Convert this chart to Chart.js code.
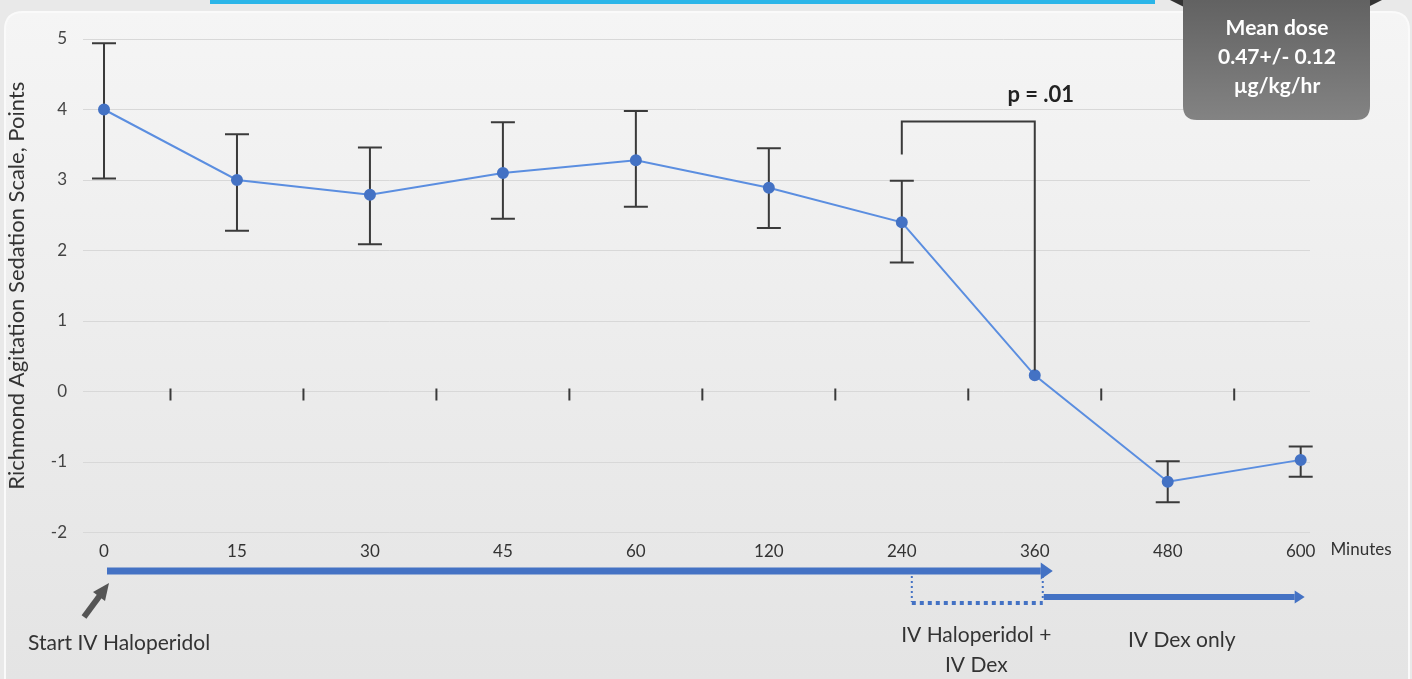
<!DOCTYPE html>
<html>
<head>
<meta charset="utf-8">
<script src="https://cdn.jsdelivr.net/npm/chart.js@4/dist/chart.umd.min.js"></script>
<style>
  html, body { margin: 0; padding: 0; background: #e9e9e9; }
  canvas { display: block; }
</style>
</head>
<body>
<canvas id="rass" width="1412" height="679"></canvas>
<script>
// minutes after start of IV haloperidol
const categories = ['0', '15', '30', '45', '60', '120', '240', '360', '480', '600'];
// mean RASS score and error bar ends
const meanRass = [4.0, 3.0, 2.79, 3.1, 3.28, 2.89, 2.4, 0.23, -1.28, -0.97];
const upperBar = [4.94, 3.65, 3.46, 3.82, 3.98, 3.45, 2.99, null, -0.99, -0.78];
const lowerBar = [3.02, 2.28, 2.09, 2.45, 2.62, 2.32, 1.83, null, -1.57, -1.21];
const yTicks = [-2, -1, 0, 1, 2, 3, 4, 5];

const FONT = 'Lato, "Open Sans", sans-serif';
const blue = '#4472c4';

function arrow(ctx, x1, x2, y, w, headLen, headW, color) {
  ctx.fillStyle = color;
  ctx.fillRect(x1, y - w / 2, x2 - headLen - x1, w);
  ctx.beginPath();
  ctx.moveTo(x2 - headLen, y - headW / 2);
  ctx.lineTo(x2, y);
  ctx.lineTo(x2 - headLen, y + headW / 2);
  ctx.closePath();
  ctx.fill();
}

function roundRect(ctx, x, y, w, h, r) {
  ctx.beginPath();
  ctx.moveTo(x + r, y);
  ctx.lineTo(x + w - r, y);
  ctx.quadraticCurveTo(x + w, y, x + w, y + r);
  ctx.lineTo(x + w, y + h - r);
  ctx.quadraticCurveTo(x + w, y + h, x + w - r, y + h);
  ctx.lineTo(x + r, y + h);
  ctx.quadraticCurveTo(x, y + h, x, y + h - r);
  ctx.lineTo(x, y + r);
  ctx.quadraticCurveTo(x, y, x + r, y);
  ctx.closePath();
}

const backdrop = {
  id: 'backdrop',
  beforeDraw(chart) {
    const ctx = chart.ctx;
    ctx.save();
    ctx.fillStyle = '#e9e9e9';
    ctx.fillRect(0, 0, chart.width, chart.height);
    const g = ctx.createLinearGradient(0, 12, 0, chart.height);
    g.addColorStop(0, '#f5f5f5');
    g.addColorStop(1, '#e4e4e4');
    roundRect(ctx, 5, 12, 1404, 720, 18);
    ctx.fillStyle = g;
    ctx.fill();
    ctx.strokeStyle = '#fafafa';
    ctx.lineWidth = 2;
    ctx.stroke();
    ctx.fillStyle = '#2bb5e8';
    ctx.fillRect(210, 0, 945, 4);
    ctx.restore();
  }
};

const errorBars = {
  id: 'errorBars',
  beforeDatasetsDraw(chart) {
    const ctx = chart.ctx;
    const xs = chart.scales.x, ys = chart.scales.y;
    ctx.save();
    ctx.strokeStyle = '#3a3a3a';
    ctx.lineWidth = 2;
    meanRass.forEach((m, i) => {
      if (upperBar[i] == null) return;
      const x = xs.getPixelForValue(i);
      const yt = ys.getPixelForValue(upperBar[i]);
      const yb = ys.getPixelForValue(lowerBar[i]);
      ctx.beginPath();
      ctx.moveTo(x, yt); ctx.lineTo(x, yb);
      ctx.moveTo(x - 12, yt); ctx.lineTo(x + 12, yt);
      ctx.moveTo(x - 12, yb); ctx.lineTo(x + 12, yb);
      ctx.stroke();
    });
    // small marks on the zero line between time points
    const y0 = ys.getPixelForValue(0);
    for (let i = 0; i < categories.length - 1; i++) {
      const x = xs.getPixelForValue(i + 0.5);
      ctx.beginPath();
      ctx.moveTo(x, y0 - 3); ctx.lineTo(x, y0 + 9);
      ctx.stroke();
    }
    ctx.restore();
  }
};

const notes = {
  id: 'notes',
  afterDraw(chart) {
    const ctx = chart.ctx;
    const xs = chart.scales.x, ys = chart.scales.y;
    const px = i => xs.getPixelForValue(i);
    ctx.save();

    // p value bracket between 240 and 360 min
    ctx.strokeStyle = '#3a3a3a';
    ctx.lineWidth = 2;
    ctx.beginPath();
    ctx.moveTo(px(6), ys.getPixelForValue(3.36));
    ctx.lineTo(px(6), ys.getPixelForValue(3.83));
    ctx.lineTo(px(7), ys.getPixelForValue(3.83));
    ctx.lineTo(px(7), ys.getPixelForValue(0.3));
    ctx.stroke();
    ctx.fillStyle = '#222';
    ctx.font = 'bold 22px ' + FONT;
    ctx.textAlign = 'center';
    ctx.textBaseline = 'middle';
    ctx.fillText('p = .01', px(7) + 6, ys.getPixelForValue(4.2));

    // x unit
    ctx.font = '17px ' + FONT;
    ctx.fillStyle = '#333';
    ctx.fillText('Minutes', 1361, 550);

    // treatment arrows
    arrow(ctx, px(0) + 3, px(7) + 18, 571, 7, 12, 17, blue);
    ctx.strokeStyle = blue;
    ctx.lineWidth = 2;
    ctx.setLineDash([2, 3]);
    ctx.beginPath();
    ctx.moveTo(px(6) + 10, 576); ctx.lineTo(px(6) + 10, 602);
    ctx.moveTo(px(7) + 8, 576); ctx.lineTo(px(7) + 8, 600);
    ctx.stroke();
    ctx.lineWidth = 4;
    ctx.setLineDash([4, 4]);
    ctx.beginPath();
    ctx.moveTo(px(6) + 10, 603); ctx.lineTo(px(7) + 8, 603);
    ctx.stroke();
    ctx.setLineDash([]);
    arrow(ctx, px(7) + 9, px(9) + 4, 597, 6, 10, 13, blue);

    // start marker
    ctx.strokeStyle = '#555';
    ctx.fillStyle = '#555';
    ctx.lineWidth = 6;
    ctx.beginPath();
    ctx.moveTo(px(0) - 20, 617); ctx.lineTo(px(0) - 3, 594);
    ctx.stroke();
    ctx.beginPath();
    ctx.moveTo(px(0) + 5, 583);
    ctx.lineTo(px(0) - 11, 592);
    ctx.lineTo(px(0) + 1, 601);
    ctx.closePath();
    ctx.fill();

    ctx.fillStyle = '#333';
    ctx.font = '21px ' + FONT;
    ctx.textAlign = 'left';
    ctx.fillText('Start IV Haloperidol', 28, 643);
    ctx.textAlign = 'center';
    const mid = (px(6) + px(7)) / 2 + 8;
    ctx.fillText('IV Haloperidol +', mid, 635);
    ctx.fillText('IV Dex', mid, 665);
    ctx.fillText('IV Dex only', px(8) + 14, 640);

    // mean dose box
    ctx.fillStyle = '#333';
    ctx.beginPath();
    ctx.moveTo(1170, 0); ctx.lineTo(1186, 0); ctx.lineTo(1186, 8); ctx.closePath();
    ctx.moveTo(1382, 0); ctx.lineTo(1366, 0); ctx.lineTo(1366, 8); ctx.closePath();
    ctx.fill();
    const g = ctx.createLinearGradient(0, 0, 0, 120);
    g.addColorStop(0, '#626262');
    g.addColorStop(1, '#838383');
    roundRect(ctx, 1183, -20, 187, 140, 14);
    ctx.fillStyle = g;
    ctx.fill();
    ctx.fillStyle = '#fff';
    ctx.font = 'bold 21px ' + FONT;
    ctx.fillText('Mean dose', 1277, 28);
    ctx.fillText('0.47+/- 0.12', 1277, 57);
    ctx.fillText('\u00b5g/kg/hr', 1277, 86);
    ctx.restore();
  }
};

new Chart(document.getElementById('rass'), {
  type: 'line',
  data: {
    datasets: [{
      data: categories.map((c, i) => ({ x: i, y: meanRass[i] })),
      borderColor: '#5b8ee0',
      borderWidth: 2,
      pointRadius: 5,
      pointBackgroundColor: blue,
      pointBorderColor: blue,
      tension: 0,
      clip: false
    }]
  },
  options: {
    responsive: false,
    animation: false,
    devicePixelRatio: 1,
    layout: { padding: { top: 39, right: 102, left: 0, bottom: 0 } },
    plugins: { legend: { display: false }, tooltip: { enabled: false } },
    scales: {
      x: {
        type: 'linear',
        min: -0.158,
        max: 9.07,
        grid: { display: false },
        border: { display: false },
        ticks: {
          stepSize: 1,
          includeBounds: false,
          padding: 1,
          color: '#333',
          font: { family: FONT, size: 17 },
          maxRotation: 0,
          autoSkip: false,
          callback: v => categories[v] ?? ''
        },
        afterFit: s => { s.height = 146.5; }
      },
      y: {
        min: yTicks[0],
        max: yTicks[yTicks.length - 1],
        afterBuildTicks: s => { s.ticks = yTicks.map(v => ({ value: v })); },
        grid: { color: '#d8d8d8', drawTicks: false },
        border: { display: false },
        ticks: { padding: 16, color: '#444', font: { family: FONT, size: 17 } },
        title: {
          display: true,
          text: 'Richmond Agitation Sedation Scale, Points',
          color: '#333',
          font: { family: FONT, size: 22 },
          padding: { top: 4, bottom: 0 }
        },
        afterFit: s => { s.width = 83; }
      }
    }
  },
  plugins: [backdrop, errorBars, notes]
});
</script>
</body>
</html>
